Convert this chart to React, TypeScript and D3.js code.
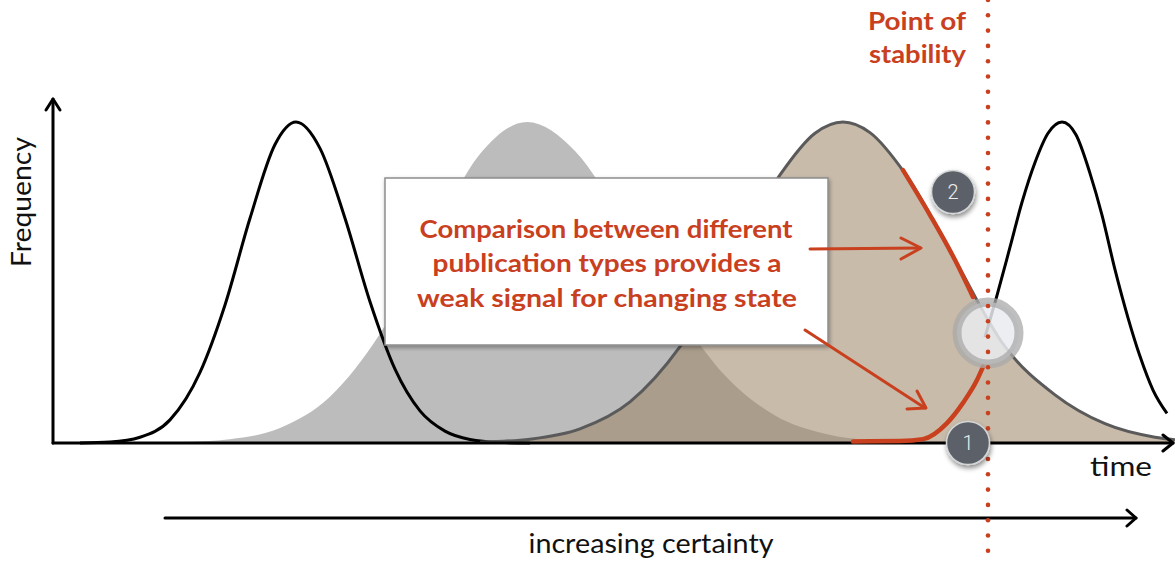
import React from "react";
import * as d3 from "d3";

// time units (arbitrary), frequency 0..1
const seriesEarly: [number, number][] = [
  [27, 0], [57, 0.003], [87, 0.018], [117, 0.072], [147, 0.22], [172, 0.43], [197, 0.7],
  [222, 0.93], [243, 1.0], [267, 0.918], [292, 0.7], [317, 0.44], [342, 0.23], [367, 0.1],
  [392, 0.037], [417, 0.011], [447, 0.002], [477, 0],
];
const seriesGray: [number, number][] = [
  [77, 0], [127, 0.003], [177, 0.012], [227, 0.047], [277, 0.144], [327, 0.34], [377, 0.625],
  [427, 0.9], [474, 1.0], [522, 0.91], [572, 0.68], [622, 0.42], [672, 0.21], [722, 0.086],
  [772, 0.029], [822, 0.008], [872, 0.002], [922, 0],
];
const seriesTan: [number, number][] = [
  [427, 0.0025], [477, 0.012], [527, 0.044], [577, 0.128], [627, 0.3], [677, 0.56], [727, 0.835],
  [762, 0.965], [790, 1.0], [817, 0.967], [852, 0.84], [902, 0.57], [952, 0.3], [1002, 0.15],
  [1052, 0.06], [1102, 0.018], [1122, 0.01],
];
const seriesLate: [number, number][] = [
  [932, 0.33], [944, 0.46], [957, 0.61], [969, 0.75], [982, 0.874], [995, 0.965], [1009, 1.0],
  [1023, 0.96], [1037, 0.84], [1049, 0.71], [1062, 0.54], [1075, 0.39], [1087, 0.27],
  [1100, 0.165], [1114, 0.092],
];
const signalFalling: [number, number][] = [
  [850, 0.85], [877, 0.71], [902, 0.57], [920, 0.455],
];
const signalRising: [number, number][] = [
  [800, 0.005], [847, 0.006], [870, 0.012], [894, 0.062], [910, 0.125], [924, 0.196], [930, 0.237],
];
const stabilityT = 935;
const boxLines = [
  "Comparison between different",
  "publication types provides a",
  "weak signal for changing state",
];
const stabilityLines = ["Point of", "stability"];
const markerLabels = ["1", "2"];
const axisLabels = { y: "Frequency", x: "time", bottom: "increasing certainty" };

const RED = "#c9401f";

export default function App() {
  const x = d3.scaleLinear().domain([0, 1120]).range([53, 1173]);
  const y = d3.scaleLinear().domain([0, 1]).range([443, 122]);
  const line = d3.line<[number, number]>().x((d) => x(d[0])).y((d) => y(d[1])).curve(d3.curveMonotoneX);
  const area = d3
    .area<[number, number]>()
    .x((d) => x(d[0]))
    .y0(y(0))
    .y1((d) => y(d[1]))
    .curve(d3.curveMonotoneX);

  const sx = x(stabilityT);
  const dots = d3.range(0, 562, 15.3);
  const bigCx = sx;
  const bigCy = 333;

  return (
    <svg
      width={1175}
      height={561}
      style={{ position: "absolute", left: 0, top: 0, background: "#fff" }}
    >
      <defs>
        <filter id="sh" x="-20%" y="-20%" width="140%" height="140%">
          <feDropShadow dx="1" dy="2" stdDeviation="2" floodColor="#000" floodOpacity="0.35" />
        </filter>
        <filter id="sh2" x="-50%" y="-50%" width="200%" height="200%">
          <feDropShadow dx="1" dy="3" stdDeviation="2.5" floodColor="#000" floodOpacity="0.45" />
        </filter>
      </defs>

      {/* gray distribution */}
      <path d={area(seriesGray) || ""} fill="#bcbcbc" />
      {/* early distribution outline */}
      <path d={line(seriesEarly) || ""} fill="none" stroke="#000" strokeWidth={3} />
      {/* tan distribution */}
      <path d={area(seriesTan) || ""} fill="rgb(155,132,100)" fillOpacity={0.55} />
      <path d={line(seriesTan) || ""} fill="none" stroke="#5a5a5a" strokeWidth={3} />
      {/* late distribution */}
      <path d={line(seriesLate) || ""} fill="none" stroke="#000" strokeWidth={3} />

      {/* axes */}
      <g stroke="#000" strokeWidth={3} fill="none" strokeLinecap="round" strokeLinejoin="round">
        <line x1={x(0)} y1={y(0)} x2={x(0)} y2={99} />
        <polyline points={`${x(0) - 7},${110} ${x(0)},${99} ${x(0) + 7},${110}`} />
        <line x1={x(0)} y1={y(0)} x2={x(1120)} y2={y(0)} />
        <polyline points={`${x(1120) - 10},${y(0) - 8} ${x(1120)},${y(0)} ${x(1120) - 10},${y(0) + 8}`} />
        <line x1={165} y1={518} x2={1136} y2={518} />
        <polyline points={`${1127},${510} ${1136},${518} ${1127},${526}`} />
      </g>

      {/* red signals */}
      <path d={line(signalFalling) || ""} fill="none" stroke={RED} strokeWidth={4.5} strokeLinecap="round" />
      <path d={line(signalRising) || ""} fill="none" stroke={RED} strokeWidth={4.5} strokeLinecap="round" />

      {/* annotation box */}
      <rect x={385} y={178} width={443} height={167} fill="#fff" stroke="#8d8d8d" strokeWidth={1.5} filter="url(#sh)" />
      <g fill={RED} fontFamily="Lato, 'Noto Sans', sans-serif" fontWeight={700} fontSize={24} textAnchor="middle">
        <text x={606} y={238} textLength={373} lengthAdjust="spacingAndGlyphs">{boxLines[0]}</text>
        <text x={607} y={272} textLength={349} lengthAdjust="spacingAndGlyphs">{boxLines[1]}</text>
        <text x={607} y={307} textLength={380} lengthAdjust="spacingAndGlyphs">{boxLines[2]}</text>
      </g>

      {/* arrows */}
      <g stroke={RED} strokeWidth={3} fill="none" strokeLinecap="round" strokeLinejoin="round">
        <line x1={810} y1={249} x2={920} y2={248} />
        <polyline points="901,238 921,248 901,259" />
        <line x1={805} y1={330} x2={925} y2={408} />
        <polyline points="917,391 926,408 907,409" />
      </g>

      {/* point of stability label */}
      <g fill={RED} fontFamily="Lato, 'Noto Sans', sans-serif" fontWeight={700} fontSize={24} textAnchor="end">
        <text x={966} y={30} textLength={98} lengthAdjust="spacingAndGlyphs">{stabilityLines[0]}</text>
        <text x={966} y={63} textLength={97} lengthAdjust="spacingAndGlyphs">{stabilityLines[1]}</text>
      </g>

      {/* big translucent circle */}
      <circle cx={bigCx} cy={bigCy} r={31} fill="#e9ebf0" fillOpacity={0.85} stroke="#a9a9a9" strokeOpacity={0.75} strokeWidth={9} />

      {/* dotted stability line */}
      <g fill={RED}>
        {dots.map((d, i) => (
          <circle key={i} cx={sx} cy={d} r={2.3} />
        ))}
      </g>

      {/* numbered markers */}
      <g filter="url(#sh2)">
        <circle cx={968} cy={443} r={21.5} fill="#5b6168" stroke="#d4d6d8" strokeWidth={1.5} />
        <circle cx={953} cy={192} r={21.5} fill="#5b6168" stroke="#d4d6d8" strokeWidth={1.5} />
      </g>
      <g fill="#eceef0" fontFamily="Roboto, sans-serif" fontWeight={300} fontSize={20} textAnchor="middle">
        <text x={968} y={450}>{markerLabels[0]}</text>
        <text x={953} y={199}>{markerLabels[1]}</text>
      </g>

      {/* axis labels */}
      <g fill="#111" fontFamily="Lato, 'Open Sans', sans-serif" fontSize={27}>
        <text transform="translate(31,202) rotate(-90)" textAnchor="middle" textLength={130} lengthAdjust="spacingAndGlyphs">
          {axisLabels.y}
        </text>
        <text x={1121} y={476} textAnchor="middle" textLength={62} lengthAdjust="spacingAndGlyphs">{axisLabels.x}</text>
        <text x={651} y={553} textAnchor="middle" textLength={245} lengthAdjust="spacingAndGlyphs">{axisLabels.bottom}</text>
      </g>
    </svg>
  );
}
